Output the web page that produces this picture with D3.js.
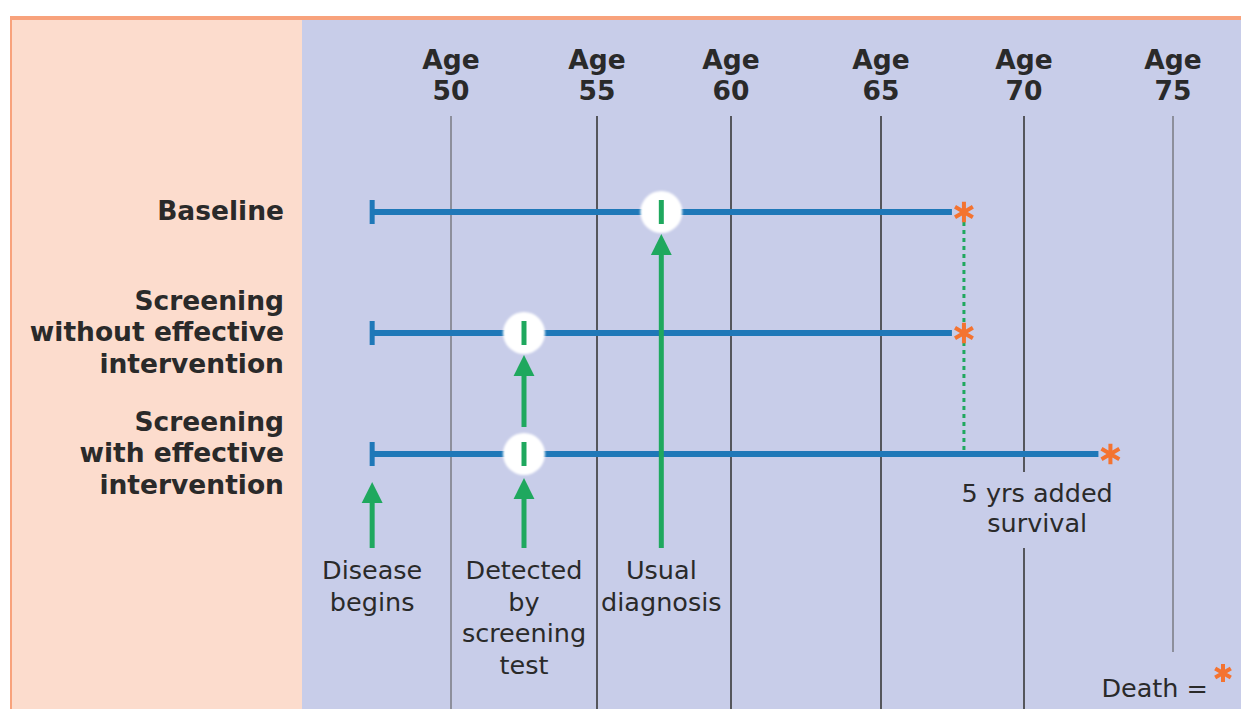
<!DOCTYPE html>
<html>
<head>
<meta charset="utf-8">
<script src="https://cdn.jsdelivr.net/npm/d3@7"></script>
<style>
  body { margin: 0; background: #fff; }
  svg { display: block; }
  text { font-family: 'DejaVu Sans', Verdana, sans-serif; fill: #2a2a2a; }
</style>
</head>
<body>
<div id="chart"></div>
<script>
// ages shown along the top
var ageTicks = [50, 55, 60, 65, 70, 75];

// one entry per scenario row
var rowLabels = [
  ['Baseline'],
  ['Screening', 'without effective', 'intervention'],
  ['Screening', 'with effective', 'intervention']
];
var onsetAge = [47.3, 47.3, 47.3];
var diagnosisAge = [57.4, 52.5, 52.5];
var deathAge = [67.9, 67.9, 72.9];

// event captions under the timelines
var eventLabels = [
  ['Disease', 'begins'],
  ['Detected', 'by', 'screening', 'test'],
  ['Usual', 'diagnosis']
];
var eventAges = [47.3, 52.5, 57.4];

var survivalLabel = ['5 yrs added', 'survival'];

var width = 1241;
var height = 709;

var blue = '#1f78b8';
var green = '#1fa85e';
var orange = '#f47330';

var x = d3.scaleLinear()
          .domain(ageTicks)
          .range([451, 597, 731, 881, 1024, 1173]);

var y = d3.scalePoint()
          .domain(d3.range(rowLabels.length))
          .range([212, 454]);

var svg = d3.select('#chart')
            .append('svg')
            .attr('width', width)
            .attr('height', height);

var defs = svg.append('defs');
defs.append('marker')
    .attr('id', 'head')
    .attr('viewBox', '0 0 10 10')
    .attr('refX', 1)
    .attr('refY', 5)
    .attr('markerWidth', 4.2)
    .attr('markerHeight', 4.6)
    .attr('orient', 'auto')
    .attr('markerUnits', 'strokeWidth')
  .append('path')
    .attr('d', 'M0,0 L10,5 L0,10 Z')
    .attr('fill', green);
defs.append('filter')
    .attr('id', 'soft')
  .append('feGaussianBlur')
    .attr('stdDeviation', 0.9);

// background panels
svg.append('rect')
   .attr('x', 10).attr('y', 16)
   .attr('width', width - 10).attr('height', height - 16)
   .attr('fill', '#f8a27c');
svg.append('rect')
   .attr('x', 12).attr('y', 20)
   .attr('width', 290).attr('height', height - 20)
   .attr('fill', '#fcdccd');
svg.append('rect')
   .attr('x', 302).attr('y', 20)
   .attr('width', width - 302).attr('height', height - 20)
   .attr('fill', '#c8cde9');

// age gridlines (Age 70 and 75 lines leave room for text)
var gridStop = {70: [[116, 472], [548, height]], 75: [[116, 652]]};
ageTicks.forEach(function (a) {
  var segs = gridStop[a] || [[116, height]];
  segs.forEach(function (s) {
    svg.append('line')
       .attr('x1', x(a)).attr('x2', x(a))
       .attr('y1', s[0]).attr('y2', s[1])
       .attr('stroke', (a === 50 || a === 75) ? '#8d8f9c' : '#55565c')
       .attr('stroke-width', 2);
  });
});

// age labels
var ageLab = svg.selectAll('.age')
                .data(ageTicks)
                .enter()
                .append('text')
                  .attr('class', 'age')
                  .attr('text-anchor', 'middle')
                  .attr('font-weight', 'bold')
                  .attr('font-size', 26.5)
                  .attr('x', function (d) { return x(d); });
ageLab.append('tspan').attr('x', function (d) { return x(d); }).attr('y', 69).text('Age');
ageLab.append('tspan').attr('x', function (d) { return x(d); }).attr('y', 100).text(function (d) { return d; });

// row labels, middle line sits on the timeline
rowLabels.forEach(function (lines, i) {
  var t = svg.append('text')
             .attr('text-anchor', 'end')
             .attr('font-weight', 'bold')
             .attr('font-size', 26.5);
  var top = y(i) + 8 - (lines.length - 1) / 2 * 31.5;
  lines.forEach(function (l, j) {
    t.append('tspan').attr('x', 284).attr('y', top + j * 31.5).text(l);
  });
});

// dotted line showing the gained survival
svg.append('line')
   .attr('x1', x(deathAge[0])).attr('x2', x(deathAge[0]))
   .attr('y1', y(0) + 10).attr('y2', y(2))
   .attr('stroke', green)
   .attr('stroke-width', 3)
   .attr('stroke-dasharray', '4,4');

// timelines
rowLabels.forEach(function (lines, i) {
  svg.append('line')
     .attr('x1', x(onsetAge[i])).attr('x2', x(deathAge[i]) - 12)
     .attr('y1', y(i)).attr('y2', y(i))
     .attr('stroke', blue)
     .attr('stroke-width', 6);
  svg.append('line')
     .attr('x1', x(onsetAge[i])).attr('x2', x(onsetAge[i]))
     .attr('y1', y(i) - 12).attr('y2', y(i) + 12)
     .attr('stroke', blue)
     .attr('stroke-width', 5);
  svg.append('circle')
     .attr('cx', x(diagnosisAge[i])).attr('cy', y(i))
     .attr('r', 21)
     .attr('fill', '#fff')
     .attr('filter', 'url(#soft)');
  svg.append('line')
     .attr('x1', x(diagnosisAge[i])).attr('x2', x(diagnosisAge[i]))
     .attr('y1', y(i) - 12).attr('y2', y(i) + 12)
     .attr('stroke', green)
     .attr('stroke-width', 5);
  svg.append('path')
     .attr('transform', 'translate(' + x(deathAge[i]) + ',' + y(i) + ')')
     .attr('d', d3.symbol(d3.symbolAsterisk, 300)())
     .attr('stroke', orange)
     .attr('stroke-width', 4);
});

// arrows
function arrow(xPos, y1, y2) {
  svg.append('line')
     .attr('x1', xPos).attr('x2', xPos)
     .attr('y1', y1).attr('y2', y2 + 20)
     .attr('stroke', green)
     .attr('stroke-width', 5)
     .attr('marker-end', 'url(#head)');
}
var arrowBase = 548;
arrow(x(eventAges[0]), arrowBase, y(2) + 27);
arrow(x(eventAges[1]), arrowBase, y(2) + 23);
arrow(x(eventAges[1]), y(2) - 27, y(1) + 21);
arrow(x(eventAges[2]), arrowBase, y(0) + 21);

// event captions
eventLabels.forEach(function (lines, i) {
  var t = svg.append('text')
             .attr('text-anchor', 'middle')
             .attr('font-size', 25.5);
  lines.forEach(function (l, j) {
    t.append('tspan').attr('x', x(eventAges[i])).attr('y', 579 + j * 31.5).text(l);
  });
});

// survival caption
var sx = (x(deathAge[0]) + x(deathAge[2])) / 2;
var st = svg.append('text')
            .attr('text-anchor', 'middle')
            .attr('font-size', 25.5);
survivalLabel.forEach(function (l, j) {
  st.append('tspan').attr('x', sx).attr('y', 502 + j * 30).text(l);
});

// legend
svg.append('text')
   .attr('text-anchor', 'end')
   .attr('font-size', 25.5)
   .attr('x', 1208).attr('y', 697)
   .text('Death =');
svg.append('path')
   .attr('transform', 'translate(1223,673)')
   .attr('d', d3.symbol(d3.symbolAsterisk, 230)())
   .attr('stroke', orange)
   .attr('stroke-width', 4);
</script>
</body>
</html>
